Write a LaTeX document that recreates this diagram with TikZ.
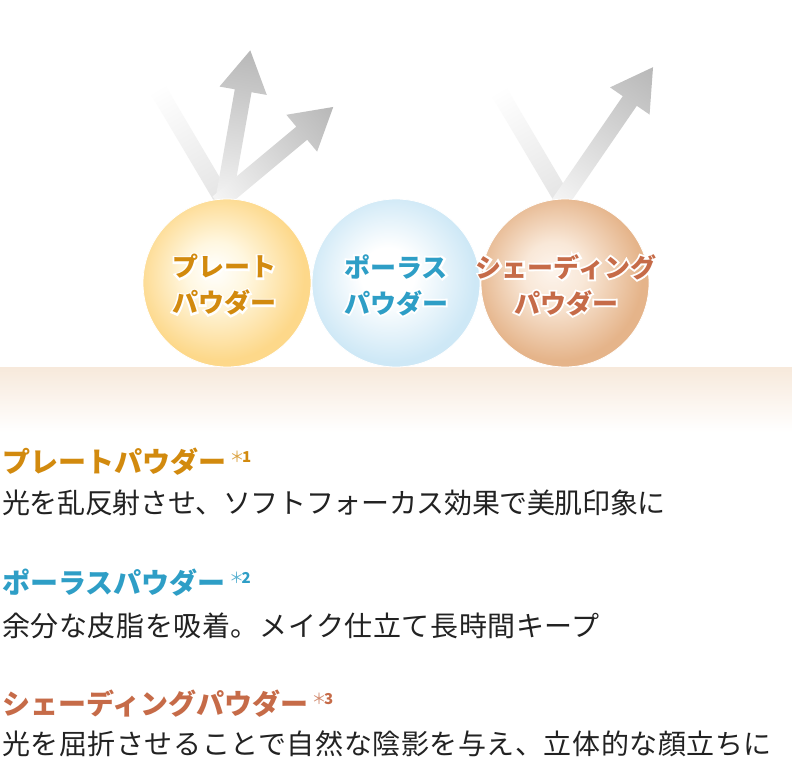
\documentclass[tikz,border=0pt]{standalone}
\usepackage{fontspec}
\setmainfont{Noto Sans CJK JP}
\usetikzlibrary{calc}
\definecolor{plateC}{HTML}{D28A0E}
\definecolor{poreC}{HTML}{2E9EC6}
\definecolor{shadeC}{HTML}{C66B48}
\definecolor{bodyC}{HTML}{222222}
\definecolor{groundC}{HTML}{F7E9DB}
\pgfdeclareradialshading{plateball}{\pgfpoint{-4bp}{4bp}}{color(0bp)=(white); color(9bp)=(rgb,255:red,255;green,247;blue,224); color(25bp)=(rgb,255:red,253;green,216;blue,138); color(50bp)=(rgb,255:red,253;green,216;blue,138)}
\pgfdeclareradialshading{poreball}{\pgfpoint{-3bp}{3bp}}{color(0bp)=(white); color(8bp)=(white); color(25bp)=(rgb,255:red,206;green,232;blue,246); color(50bp)=(rgb,255:red,206;green,232;blue,246)}
\pgfdeclareradialshading{shadeball}{\pgfpoint{-4bp}{4bp}}{color(0bp)=(rgb,255:red,253;green,244;blue,236); color(9bp)=(rgb,255:red,249;green,232;blue,216); color(25bp)=(rgb,255:red,229;green,180;blue,138); color(50bp)=(rgb,255:red,229;green,180;blue,138)}
\tikzset{
  ball/.style={circle, minimum size=168pt, inner sep=0pt, draw=white, line width=0.8pt},
  circtext/.style={font=\fontsize{26}{36}\selectfont\bfseries, align=center, inner sep=0pt},
  halostyle/.style={font=\fontsize{26}{36}\selectfont\bfseries\addfontfeature{FakeBold=14}, align=center, inner sep=0pt, text=white},
  headtext/.style={font=\fontsize{28}{30}\selectfont\bfseries, anchor=west, inner sep=0pt},
  bodytext/.style={font=\fontsize{28}{30}\selectfont, anchor=west, inner sep=0pt, text=bodyC},
  suptext/.style={font=\fontsize{15}{16}\selectfont, anchor=west, inner sep=0pt},
}
% arrow: length, angle, base coordinate
\newcommand\lightarrow[3]{%
  \begin{scope}[transform canvas={shift={#3}, rotate=#2}]
    \shade[left color=black!4, right color=black!28]
      (0,-8.5) -- (#1-41,-8.5) -- (#1-41,-24) -- (#1,0) -- (#1-41,24) -- (#1-41,8.5) -- (0,8.5) -- cycle;
  \end{scope}}
\newcommand\lightband[3]{%
  \begin{scope}[transform canvas={shift={#3}, rotate=#2}]
    \shade[left color=white, right color=black!11]
      (0,-8.5) rectangle (#1,8.5);
  \end{scope}}
\newcommand\halotext[4]{% name, position (x,y without parens), color, text
  \node[halostyle] (#1h) at (#2) {#4};
  \node[circtext, text=#3] (#1) at (#2) {#4};}
\begin{document}
\begin{tikzpicture}[x=1pt,y=-1pt]
\useasboundingbox[fill=white] (0,0) rectangle (792,759);
% ground
\shade[top color=groundC, bottom color=white] (0,367) rectangle (792,432);
% light rays
\lightband{135}{-59.4}{(157,88)}
\lightband{133}{-59.4}{(498,90)}
\lightarrow{157}{80}{(223,205)}
\lightarrow{150}{39.8}{(218,203)}
\lightarrow{166}{55.5}{(559,204)}
% balls
\node[ball, shading=plateball] (plate) at (227,283) {};
\node[ball, shading=poreball] (pore) at (396,283) {};
\node[ball, shading=shadeball] (shade) at (565,283) {};
\halotext{plateT}{224,285}{plateC}{プレート\\パウダー}
\halotext{poreT}{396,285}{poreC}{ポーラス\\パウダー}
\halotext{shadeT}{566,285}{shadeC}{シェーディング\\パウダー}
% descriptions
\node[headtext, text=plateC] (h1) at (2,462) {プレートパウダー};
\node[suptext] (s1) at ([xshift=3pt]h1.east |- 0,457) {\color{plateC!80}＊\hspace{-2.5pt}\color{plateC}\bfseries 1};
\node[bodytext] (b1) at (2,503) {\addfontfeature{LetterSpace=-1.3}光を乱反射させ、ソフトフォーカス効果で美肌印象に};
\node[headtext, text=poreC] (h2) at (2,583) {ポーラスパウダー};
\node[suptext] (s2) at ([xshift=3pt]h2.east |- 0,578) {\color{poreC!80}＊\hspace{-2.5pt}\color{poreC}\bfseries 2};
\node[bodytext] (b2) at (2,626) {\addfontfeature{LetterSpace=2.1}余分な皮脂を吸着。メイク仕立て長時間キープ};
\node[headtext, text=shadeC] (h3) at (2,704) {シェーディングパウダー};
\node[suptext] (s3) at ([xshift=3pt]h3.east |- 0,699) {\color{shadeC!80}＊\hspace{-2.5pt}\color{shadeC}\bfseries 3};
\node[bodytext] (b3) at (2,744) {\addfontfeature{LetterSpace=2}光を屈折させることで自然な陰影を与え、立体的な顔立ちに};
\end{tikzpicture}
\end{document}
